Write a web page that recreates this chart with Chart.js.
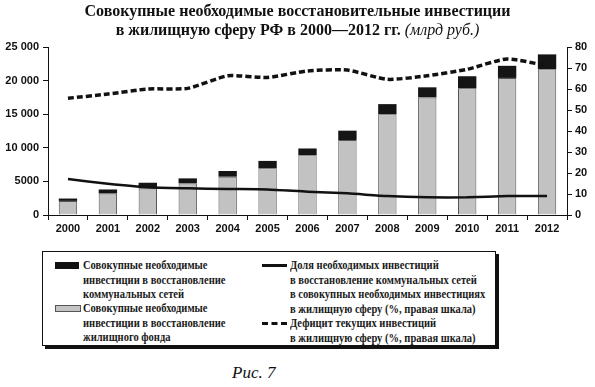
<!DOCTYPE html>
<html>
<head>
<meta charset="utf-8">
<script src="https://cdn.jsdelivr.net/npm/chart.js@4"></script>
<style>
  body { margin: 0; background: #fff; }
  #wrap { position: relative; width: 595px; height: 387px; overflow: hidden; }
  #title { position: absolute; left: 0; top: 1px; width: 595px; text-align: center;
    font-family: "Liberation Serif", serif; font-weight: bold; font-size: 16px; line-height: 19px; color: #111; }
  #title i { font-weight: normal; }
  #chartBox { position: absolute; left: 0; top: 0; width: 595px; height: 245px; }
  #legend { position: absolute; left: 42px; top: 251px; width: 452px; height: 93px;
    border: 1.5px solid #111; box-shadow: 3px 3px 0 #111; background: #fff;
    font-family: "Liberation Serif", serif; font-weight: bold;
    font-size: 13px; line-height: 14.5px; color: #1a1a1a; white-space: nowrap; }
  .item { position: absolute; }
  .txt { display: inline-block; transform: scaleX(0.81); transform-origin: left top; }
  .sw { position: absolute; left: -28px; top: 4px; width: 24px; height: 7px; }
  .ln { position: absolute; left: -28px; top: 6px; width: 25px; height: 0; }
  #caption { position: absolute; left: 232px; top: 363px; font-family: "Liberation Serif", serif;
    font-style: italic; font-size: 17px; color: #111; }
</style>
</head>
<body>
<div id="wrap">
  <div id="chartBox"><canvas id="grafico"></canvas></div>
  <div id="title">Совокупные необходимые восстановительные инвестиции<br>в жилищную сферу РФ в 2000—2012 гг. <i>(млрд руб.)</i></div>
  <div id="legend">
    <div class="item" style="left:40px; top:6px;"><div class="sw" style="background:#111;"></div><span class="txt">Совокупные необходимые<br>инвестиции в восстановление<br>коммунальных сетей</span></div>
    <div class="item" style="left:40px; top:49px;"><div class="sw" style="background:#c4c4c4; border:1px solid #555; height:5px;"></div><span class="txt">Совокупные необходимые<br>инвестиции в восстановление<br>жилищного фонда</span></div>
    <div class="item" style="left:247px; top:6px;"><div class="ln" style="border-top:3px solid #111;"></div><span class="txt">Доля необходимых инвестиций<br>в восстановление коммунальных сетей<br>в совокупных необходимых инвестициях<br>в жилищную сферу (%, правая шкала)</span></div>
    <div class="item" style="left:247px; top:64px;"><div class="ln" style="border-top:3px dashed #111;"></div><span class="txt">Дефицит текущих инвестиций<br>в жилищную сферу (%, правая шкала)</span></div>
  </div>
  <div id="caption">Рис. 7</div>
</div>
<script>
const anos = ['2000', '2001', '2002', '2003', '2004', '2005', '2006', '2007', '2008', '2009', '2010', '2011', '2012'];
// жилищный фонд (серые столбцы)
const fondo = [2100, 3200, 3950, 4700, 5700, 6950, 8900, 11150, 15000, 17500, 18850, 20400, 21700];
// коммунальные сети (черная часть столбца)
const redes = [350, 600, 850, 750, 850, 1100, 1000, 1400, 1500, 1500, 1800, 1800, 2200];
// доля сетей, % (правая шкала)
const dolya = [17.1, 14.9, 13.2, 12.7, 12.4, 12.2, 11.1, 10.3, 9.0, 8.4, 8.4, 9.0, 9.0];
// дефицит текущих инвестиций, % (правая шкала)
const deficit = [55.6, 57.6, 60.0, 60.3, 66.3, 65.5, 68.6, 69.0, 64.6, 66.3, 69.4, 74.3, 71.1];

const fonteTick = { family: '"Liberation Sans", Arial, sans-serif', size: 11, weight: 'bold' };

new Chart(document.getElementById('grafico'), {
    type: 'bar',
    data: {
        labels: anos,
        datasets: [
            { type: 'line', data: dolya, yAxisID: 'y2', borderColor: '#111', borderWidth: 2.5,
              pointRadius: 0, tension: 0.2, order: 0 },
            { type: 'line', data: deficit, yAxisID: 'y2', borderColor: '#111', borderWidth: 3.5,
              borderDash: [6, 3], pointRadius: 0, tension: 0.2, order: 0 },
            { data: fondo, backgroundColor: '#c2c2c2', borderColor: '#555', borderWidth: 1,
              stack: 's', barPercentage: 0.46, categoryPercentage: 1, order: 1 },
            { data: redes, backgroundColor: '#151515', borderColor: '#151515', borderWidth: 0,
              stack: 's', barPercentage: 0.46, categoryPercentage: 1, order: 1 }
        ]
    },
    options: {
        responsive: true,
        maintainAspectRatio: false,
        animation: false,
        layout: { padding: { top: 47, left: 0, right: 0, bottom: 0 } },
        plugins: { legend: { display: false }, tooltip: { enabled: false } },
        scales: {
            x: {
                stacked: true,
                grid: { drawOnChartArea: false, color: '#111', tickLength: 5 },
                border: { color: '#111', width: 1 },
                ticks: { color: '#111', font: fonteTick, padding: 2, maxRotation: 0 },
                afterFit: s => { s.height = 30; }
            },
            y: {
                stacked: true,
                position: 'left',
                min: 0, max: 25000,
                grid: { drawOnChartArea: false, color: '#111', tickLength: 5 },
                border: { color: '#111', width: 1 },
                ticks: { stepSize: 5000, color: '#111', font: fonteTick, padding: 4,
                         callback: v => v >= 10000 ? String(v).replace(/(\d+)(\d{3})$/, '$1 $2') : v },
                afterFit: s => { s.width = 48; }
            },
            y2: {
                position: 'right',
                min: 0, max: 80,
                grid: { drawOnChartArea: false, color: '#111', tickLength: 5 },
                border: { color: '#111', width: 1 },
                ticks: { stepSize: 10, color: '#111', font: fonteTick, padding: 3 },
                afterFit: s => { s.width = 28; }
            }
        }
    }
});
</script>
</body>
</html>
